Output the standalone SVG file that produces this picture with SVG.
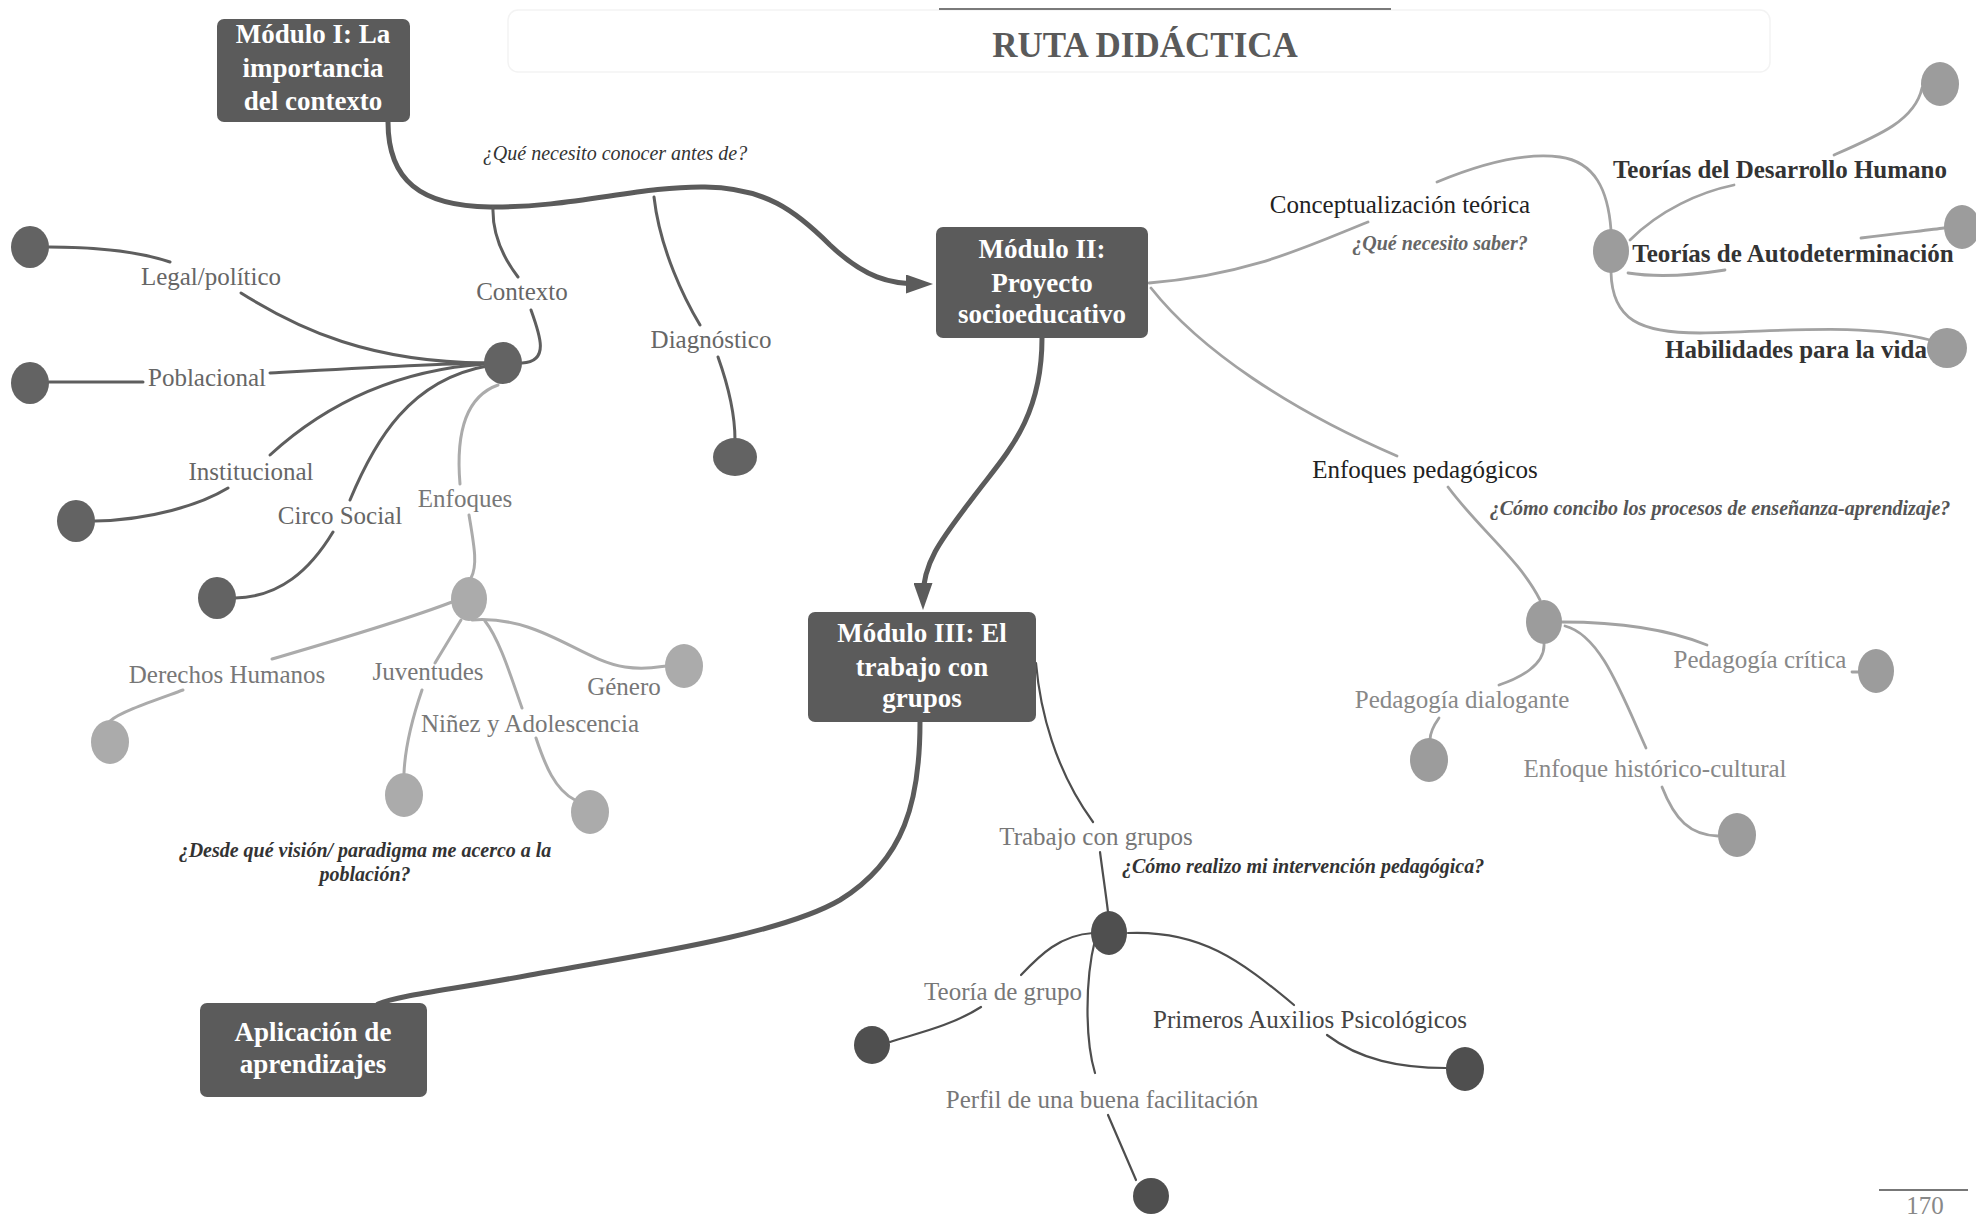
<svg xmlns="http://www.w3.org/2000/svg" width="1976" height="1217" viewBox="0 0 1976 1217">
  <style>
    text { font-family: "Liberation Serif", "DejaVu Serif", serif; }
    .box { fill: #5b5b5b; }
    .boxtxt { fill: #ffffff; font-size: 27px; font-weight: bold; text-anchor: middle; }
    .lbl { font-size: 25px; text-anchor: middle; }
    .q { font-size: 20px; font-style: italic; font-weight: bold; }
    .qlight { font-size: 20px; font-style: italic; font-weight: normal; }
    .main { fill: none; stroke: #5b5b5b; stroke-width: 5; stroke-linecap: round; }
    .dk { fill: none; stroke: #5e5e5e; stroke-width: 3; stroke-linecap: round; }
    .dk2 { fill: none; stroke: #4e4e4e; stroke-width: 2.2; stroke-linecap: round; }
    .lt { fill: none; stroke: #ababab; stroke-width: 3; stroke-linecap: round; }
    .md { fill: none; stroke: #a2a2a2; stroke-width: 2.8; stroke-linecap: round; }
    .dotdk { fill: #636363; }
    .dotdk2 { fill: #4f4f4f; }
    .dotlt { fill: #ababab; }
    .dotmd { fill: #9c9c9c; }
  </style>
  <defs>
    <marker id="arrow" markerUnits="userSpaceOnUse" markerWidth="27" markerHeight="19" viewBox="0 0 27 19" refX="14" refY="9.5" orient="auto">
      <path d="M0,0 L27,9.5 L0,19 Z" fill="#5b5b5b"/>
    </marker>
  </defs>

  <rect width="1976" height="1217" fill="#ffffff"/>

  <!-- heading -->
  <g id="titulo">
    <rect x="508" y="10" width="1262" height="62" rx="10" fill="none" stroke="#f3f3f3" stroke-width="1.5"/>
    <line x1="939" y1="9" x2="1391" y2="9" stroke="#7a7a7a" stroke-width="2"/>
    <text x="1145" y="57" font-size="35" font-weight="bold" fill="#5a5a5a" text-anchor="middle">RUTA DIDÁCTICA</text>
  </g>

  <!-- connectors -->
  <g id="connectors">
    <!-- module flow -->
    <path class="main" d="M388,122 C388,180 420,206 490,207 C570,208 640,186 705,187 C765,188 795,210 830,245 C865,278 890,284 920,284" marker-end="url(#arrow)"/>
    <path class="main" d="M1042,338 C1042,420 1005,455 975,495 C945,535 923,560 923,597" marker-end="url(#arrow)"/>
    <path class="main" d="M920,722 C920,800 905,860 840,900 C780,935 640,955 530,975 C450,990 400,995 378,1004"/>

    <!-- Contexto / Diagnóstico -->
    <path class="dk" d="M493,207 C492,235 505,260 518,277"/>
    <path class="dk" d="M531,310 C540,335 550,362 522,363"/>
    <path class="dk" d="M654,197 C660,250 685,300 700,325"/>
    <path class="dk" d="M718,357 C728,385 735,415 735,440"/>

    <!-- Contexto children -->
    <path class="dk" d="M49,247 C100,247 140,252 170,262"/>
    <path class="dk" d="M241,293 C300,330 370,362 485,363"/>
    <path class="dk" d="M49,382 L143,382"/>
    <path class="dk" d="M270,373 C360,368 430,364 485,363"/>
    <path class="dk" d="M95,521 C150,520 200,505 228,488"/>
    <path class="dk" d="M270,455 C330,400 400,370 485,364"/>
    <path class="dk" d="M235,598 C280,597 310,570 333,532"/>
    <path class="dk" d="M350,500 C375,440 410,380 487,366"/>

    <!-- Enfoques -->
    <path class="lt" d="M498,385 C470,395 455,425 460,484"/>
    <path class="lt" d="M469,515 C474,545 478,565 471,578"/>
    <path class="lt" d="M452,602 C400,622 320,645 272,659"/>
    <path class="lt" d="M183,690 C150,702 120,712 110,721"/>
    <path class="lt" d="M461,620 C452,635 443,650 435,663"/>
    <path class="lt" d="M422,690 C410,725 405,750 404,773"/>
    <path class="lt" d="M485,621 C500,640 512,680 522,708"/>
    <path class="lt" d="M536,738 C545,765 555,790 575,800"/>
    <path class="lt" d="M472,620 C540,615 580,660 625,667 C645,670 658,667 666,666"/>

    <!-- Conceptualización teórica -->
    <path class="md" d="M1149,283 C1250,275 1310,245 1368,222"/>
    <path class="md" d="M1437,182 C1490,160 1530,153 1560,157 C1595,162 1608,190 1611,230"/>
    <path class="md" d="M1630,240 C1660,210 1700,192 1734,185"/>
    <path class="md" d="M1834,155 C1880,135 1915,120 1922,88"/>
    <path class="md" d="M1628,273 C1660,278 1700,274 1725,270"/>
    <path class="md" d="M1861,238 C1900,233 1930,230 1944,228"/>
    <path class="md" d="M1611,272 C1612,320 1640,333 1700,333 C1780,332 1860,322 1930,340"/>

    <!-- Enfoques pedagógicos -->
    <path class="md" d="M1151,288 C1200,350 1290,410 1397,456"/>
    <path class="md" d="M1448,487 C1480,530 1520,560 1540,600"/>
    <path class="md" d="M1562,622 C1620,622 1670,630 1707,645"/>
    <path class="md" d="M1852,672 L1860,672"/>
    <path class="md" d="M1544,644 C1545,665 1520,678 1499,685"/>
    <path class="md" d="M1439,718 C1434,725 1430,732 1430,740"/>
    <path class="md" d="M1565,626 C1600,635 1620,690 1646,748"/>
    <path class="md" d="M1662,787 C1675,820 1690,835 1718,836"/>

    <!-- Trabajo con grupos -->
    <path class="dk2" d="M1036,663 C1040,710 1055,770 1093,822"/>
    <path class="dk2" d="M1100,852 C1103,875 1106,895 1108,912"/>
    <path class="dk2" d="M1093,933 C1060,935 1040,955 1021,975"/>
    <path class="dk2" d="M981,1007 C950,1027 910,1035 890,1042"/>
    <path class="dk2" d="M1095,940 C1085,980 1085,1040 1095,1073"/>
    <path class="dk2" d="M1108,1115 L1136,1180"/>
    <path class="dk2" d="M1128,933 C1200,930 1240,960 1294,1005"/>
    <path class="dk2" d="M1327,1035 C1360,1060 1400,1068 1446,1068"/>
  </g>

  <!-- modules -->
  <g id="modulo-1">
    <rect class="box" x="217" y="19" width="193" height="103" rx="7"/>
    <text class="boxtxt" x="313" y="43">Módulo I: La</text>
    <text class="boxtxt" x="313" y="77">importancia</text>
    <text class="boxtxt" x="313" y="110">del contexto</text>
  </g>
  <g id="modulo-2">
    <rect class="box" x="936" y="227" width="212" height="111" rx="7"/>
    <text class="boxtxt" x="1042" y="258">Módulo II:</text>
    <text class="boxtxt" x="1042" y="292">Proyecto</text>
    <text class="boxtxt" x="1042" y="323">socioeducativo</text>
  </g>
  <g id="modulo-3">
    <rect class="box" x="808" y="612" width="228" height="110" rx="7"/>
    <text class="boxtxt" x="922" y="642">Módulo III: El</text>
    <text class="boxtxt" x="922" y="676">trabajo con</text>
    <text class="boxtxt" x="922" y="707">grupos</text>
  </g>
  <g id="aplicacion">
    <rect class="box" x="200" y="1003" width="227" height="94" rx="7"/>
    <text class="boxtxt" x="313" y="1041">Aplicación de</text>
    <text class="boxtxt" x="313" y="1073">aprendizajes</text>
  </g>

  <!-- questions -->
  <g id="pregunta-conocer">
    <text class="qlight" x="615" y="160" fill="#333" text-anchor="middle">¿Qué necesito conocer antes de?</text>
  </g>
  <g id="pregunta-vision">
    <text class="q" x="365" y="857" fill="#333" text-anchor="middle">¿Desde qué visión/ paradigma me acerco a la</text>
    <text class="q" x="365" y="881" fill="#333" text-anchor="middle">población?</text>
  </g>
  <g id="pregunta-saber">
    <text class="q" x="1440" y="250" fill="#666" text-anchor="middle">¿Qué necesito saber?</text>
  </g>
  <g id="pregunta-procesos">
    <text class="q" x="1720" y="515" fill="#555" text-anchor="middle">¿Cómo concibo los procesos de enseñanza-aprendizaje?</text>
  </g>
  <g id="pregunta-intervencion">
    <text class="q" x="1122" y="873" fill="#333">¿Cómo realizo mi intervención pedagógica?</text>
  </g>

  <!-- Módulo I topics -->
  <g id="contexto">
    <text class="lbl" x="522" y="300" fill="#666">Contexto</text>
    <ellipse class="dotdk" cx="503" cy="363" rx="19" ry="21"/>
  </g>
  <g id="diagnostico">
    <text class="lbl" x="711" y="348" fill="#666">Diagnóstico</text>
    <ellipse class="dotdk" cx="735" cy="457" rx="22" ry="19"/>
  </g>
  <g id="legal-politico">
    <text class="lbl" x="211" y="285" fill="#666">Legal/político</text>
    <ellipse class="dotdk" cx="30" cy="247" rx="19" ry="21"/>
  </g>
  <g id="poblacional">
    <text class="lbl" x="207" y="386" fill="#666">Poblacional</text>
    <ellipse class="dotdk" cx="30" cy="383" rx="19" ry="21"/>
  </g>
  <g id="institucional">
    <text class="lbl" x="251" y="480" fill="#666">Institucional</text>
    <ellipse class="dotdk" cx="76" cy="521" rx="19" ry="21"/>
  </g>
  <g id="circo-social">
    <text class="lbl" x="340" y="524" fill="#666">Circo Social</text>
    <ellipse class="dotdk" cx="217" cy="598" rx="19" ry="21"/>
  </g>
  <g id="enfoques">
    <text class="lbl" x="465" y="507" fill="#777">Enfoques</text>
    <ellipse class="dotlt" cx="469" cy="599" rx="18" ry="22"/>
  </g>
  <g id="derechos-humanos">
    <text class="lbl" x="227" y="683" fill="#777">Derechos Humanos</text>
    <ellipse class="dotlt" cx="110" cy="742" rx="19" ry="22"/>
  </g>
  <g id="juventudes">
    <text class="lbl" x="428" y="680" fill="#777">Juventudes</text>
    <ellipse class="dotlt" cx="404" cy="795" rx="19" ry="22"/>
  </g>
  <g id="genero">
    <text class="lbl" x="624" y="695" fill="#777">Género</text>
    <ellipse class="dotlt" cx="684" cy="666" rx="19" ry="22"/>
  </g>
  <g id="ninez-adolescencia">
    <text class="lbl" x="530" y="732" fill="#777">Niñez y Adolescencia</text>
    <ellipse class="dotlt" cx="590" cy="812" rx="19" ry="22"/>
  </g>

  <!-- Módulo II topics -->
  <g id="conceptualizacion">
    <text class="lbl" x="1400" y="213" fill="#222">Conceptualización teórica</text>
    <ellipse class="dotmd" cx="1611" cy="251" rx="18" ry="22"/>
  </g>
  <g id="teorias-desarrollo">
    <text class="lbl" x="1780" y="178" fill="#333" font-weight="bold" font-size="24">Teorías del Desarrollo Humano</text>
    <ellipse class="dotmd" cx="1940" cy="84" rx="19" ry="22"/>
  </g>
  <g id="teorias-autodeterminacion">
    <text class="lbl" x="1793" y="262" fill="#333" font-weight="bold" font-size="24">Teorías de Autodeterminación</text>
    <ellipse class="dotmd" cx="1962" cy="227" rx="18" ry="22"/>
  </g>
  <g id="habilidades">
    <text class="lbl" x="1796" y="358" fill="#333" font-weight="bold" font-size="24">Habilidades para la vida</text>
    <ellipse class="dotmd" cx="1947" cy="348" rx="20" ry="20"/>
  </g>
  <g id="enfoques-pedagogicos">
    <text class="lbl" x="1425" y="478" fill="#222">Enfoques pedagógicos</text>
    <ellipse class="dotmd" cx="1544" cy="622" rx="18" ry="22"/>
  </g>
  <g id="pedagogia-critica">
    <text class="lbl" x="1760" y="668" fill="#888">Pedagogía crítica</text>
    <ellipse class="dotmd" cx="1876" cy="671" rx="18" ry="22"/>
  </g>
  <g id="pedagogia-dialogante">
    <text class="lbl" x="1462" y="708" fill="#888">Pedagogía dialogante</text>
    <ellipse class="dotmd" cx="1429" cy="760" rx="19" ry="22"/>
  </g>
  <g id="enfoque-historico">
    <text class="lbl" x="1655" y="777" fill="#888">Enfoque histórico-cultural</text>
    <ellipse class="dotmd" cx="1737" cy="835" rx="19" ry="22"/>
  </g>

  <!-- Módulo III topics -->
  <g id="trabajo-grupos">
    <text class="lbl" x="1096" y="845" fill="#777">Trabajo con grupos</text>
    <ellipse class="dotdk2" cx="1109" cy="933" rx="18" ry="22"/>
  </g>
  <g id="teoria-grupo">
    <text class="lbl" x="1003" y="1000" fill="#777">Teoría de grupo</text>
    <ellipse class="dotdk2" cx="872" cy="1045" rx="18" ry="19"/>
  </g>
  <g id="perfil-facilitacion">
    <text class="lbl" x="1102" y="1108" fill="#777">Perfil de una buena facilitación</text>
    <ellipse class="dotdk2" cx="1151" cy="1196" rx="18" ry="18"/>
  </g>
  <g id="primeros-auxilios">
    <text class="lbl" x="1310" y="1028" fill="#444">Primeros Auxilios Psicológicos</text>
    <ellipse class="dotdk2" cx="1465" cy="1069" rx="19" ry="22"/>
  </g>

  <!-- page number -->
  <g id="pagina">
    <line x1="1879" y1="1190" x2="1968" y2="1190" stroke="#777" stroke-width="2"/>
    <text x="1925" y="1214" font-size="25" fill="#888" text-anchor="middle">170</text>
  </g>
</svg>
